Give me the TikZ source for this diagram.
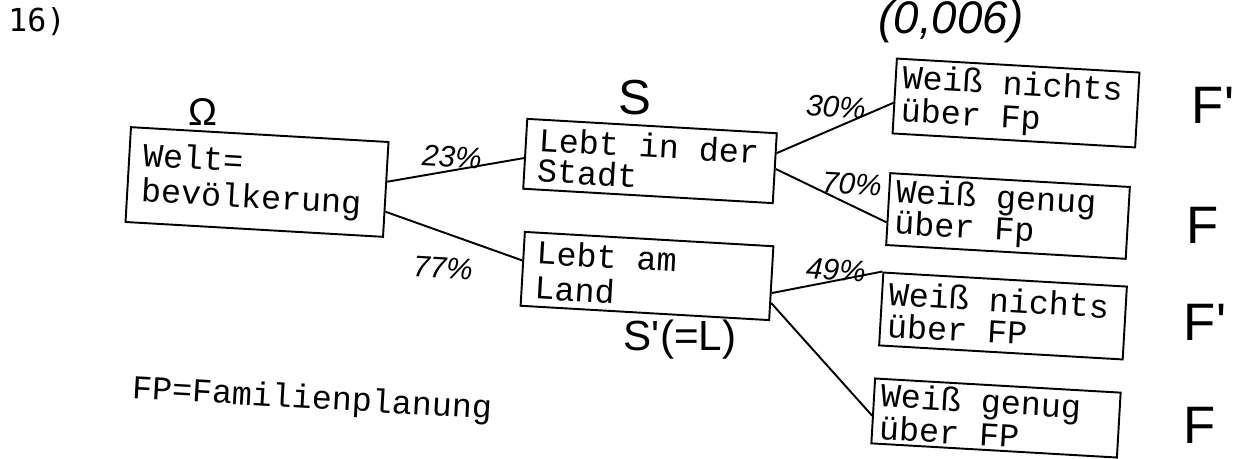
\documentclass[tikz,border=0pt]{standalone}
\usepackage{fontspec}
\setmainfont{Liberation Sans}
\newfontfamily\typ{Liberation Mono}
\newfontfamily\dotmono{DejaVu Sans Mono}
\newcommand\tsp{\nobreak\hspace{0.6em}}
\usetikzlibrary{calc}
\tikzset{
  box/.style={draw, line width=1.1pt, rotate=-3.3, inner ysep=0pt, align=left},
  conn/.style={line width=1.1pt},
  hand/.style={font=\itshape\fontsize{17}{17}\selectfont, rotate=-3.3, inner sep=0pt},
  big/.style={font=\fontsize{30}{30}\selectfont, inner sep=0pt},
}
\begin{document}
\begin{tikzpicture}[x=0.02cm,y=-0.02cm]
\useasboundingbox (0,0) rectangle (1240,459);

% boxes
\node[box, inner xsep=0.28cm, text width=4.6cm, minimum height=1.9cm,
      font=\typ\fontsize{19}{20}\selectfont] (welt) at (257,182) {Welt=\\bevölkerung};
\node[box, inner xsep=0.26cm, text width=4.48cm, minimum height=1.4cm,
      font=\typ\fontsize{19}{17.5}\selectfont] (stadt) at (650,161) {Lebt\tsp in\tsp der\\Stadt};
\node[box, inner xsep=0.26cm, text width=4.46cm, minimum height=1.48cm,
      font=\typ\fontsize{19}{20}\selectfont] (land) at (647,276) {Lebt\tsp am\\Land};
\node[box, inner xsep=0.14cm, text width=4.58cm, minimum height=1.5cm,
      font=\typ\fontsize{19}{19}\selectfont] (b1) at (1016,103) {Weiß\tsp nichts\\über\tsp Fp};
\node[box, inner xsep=0.14cm, text width=4.52cm, minimum height=1.44cm,
      font=\typ\fontsize{19}{18}\selectfont] (b2) at (1008,216) {Weiß\tsp genug\\über\tsp Fp};
\node[box, inner xsep=0.14cm, text width=4.6cm, minimum height=1.46cm,
      font=\typ\fontsize{19}{18}\selectfont] (b3) at (1003,316) {Weiß\tsp nichts\\über\tsp FP};
\node[box, inner xsep=0.14cm, text width=4.64cm, minimum height=1.3cm,
      font=\typ\fontsize{19}{17}\selectfont] (b4) at (996,418) {Weiß\tsp genug\\über\tsp FP};

% connectors
\draw[conn] ($(welt.north east)!0.42!(welt.south east)$) -- ($(stadt.north west)!0.56!(stadt.south west)$);
\draw[conn] ($(welt.north east)!0.73!(welt.south east)$) -- ($(land.north west)!0.39!(land.south west)$);
\draw[conn] ($(stadt.north east)!0.29!(stadt.south east)$) -- ($(b1.north west)!0.59!(b1.south west)$);
\draw[conn] ($(stadt.north east)!0.51!(stadt.south east)$) -- ($(b2.north west)!0.68!(b2.south west)$);
\draw[conn] ($(land.north east)!0.63!(land.south east)$) -- (b3.north west);
\draw[conn] ($(land.north east)!0.76!(land.south east)$) -- ($(b4.north west)!0.57!(b4.south west)$);

% labels
\node[font=\dotmono\fontsize{18}{18}\selectfont, inner sep=0pt] (num) at (37,22) {16)};
\node[font=\itshape\fontsize{26}{26}\selectfont, inner sep=0pt] (prob) at (951,22) {(0,006)};
\node[font=\fontsize{22}{22}\selectfont, inner sep=0pt] (omega) at (203,112) {Ω};
\node[font=\fontsize{28}{28}\selectfont, inner sep=0pt] (slab) at (635,98) {S};
\node[font=\fontsize{24}{24}\selectfont, inner sep=0pt] (slslab) at (680,340) {S\textquotesingle(=L)};
\node[hand] (p23) at (452,157) {23\%};
\node[hand] (p77) at (443,268) {77\%};
\node[hand] (p30) at (836,107) {30\%};
\node[hand] (p70) at (852,184) {70\%};
\node[hand] (p49) at (836,270) {49\%};
\node[big] (f1) at (1213,105) {F\textquotesingle};
\node[big] (f2) at (1203,225) {F};
\node[big] (f3) at (1205,322) {F\textquotesingle};
\node[big] (f4) at (1200,425) {F};
\node[font=\typ\fontsize{19}{19}\selectfont, rotate=-3.3, inner sep=0pt] (fp) at (312,400) {FP=Familienplanung};
\end{tikzpicture}
\end{document}
